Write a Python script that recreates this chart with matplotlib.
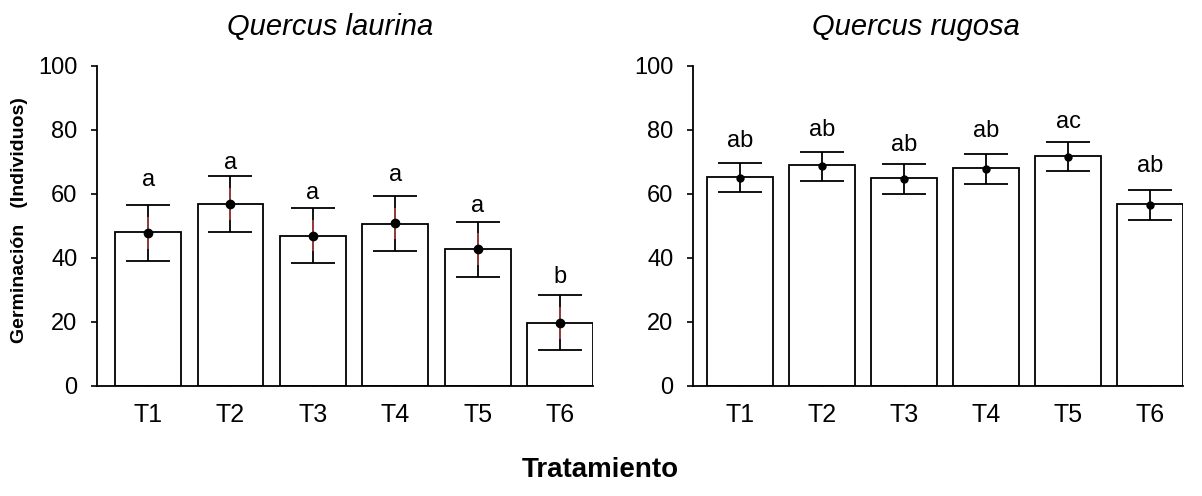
import numpy as np
import matplotlib.pyplot as plt
from matplotlib import font_manager

# Germinación por tratamiento en dos especies de Quercus

tratamientos = ["T1", "T2", "T3", "T4", "T5", "T6"]

# Quercus laurina
laurina_barra = [48.1, 56.9, 47.0, 50.7, 42.7, 19.6]
laurina_media = [47.8, 56.8, 47.0, 50.8, 42.8, 19.7]
laurina_err = [8.8, 8.7, 8.7, 8.6, 8.6, 8.6]
laurina_letras = ["a", "a", "a", "a", "a", "b"]
laurina_letra_y = [64.5, 69.7, 60.4, 65.8, 56.2, 34.0]

# Quercus rugosa
rugosa_barra = [65.3, 69.1, 65.0, 68.2, 71.8, 56.8]
rugosa_media = [65.1, 68.6, 64.8, 67.7, 71.7, 56.7]
rugosa_err = [4.5, 4.65, 4.65, 4.65, 4.6, 4.7]
rugosa_letras = ["ab", "ab", "ab", "ab", "ac", "ab"]
rugosa_letra_y = [76.7, 80.1, 75.3, 79.8, 82.6, 68.9]

nombres = [f.name for f in font_manager.fontManager.ttflist]
narrow = "Liberation Sans Narrow" if "Liberation Sans Narrow" in nombres else "Liberation Sans"
plt.rcParams["font.family"] = ["Liberation Sans", "DejaVu Sans"]

fig = plt.figure(figsize=(12.02, 4.96), dpi=100)
ax1 = fig.add_axes([97 / 1202, 1 - 386 / 496, 496 / 1202, 320 / 496])
ax2 = fig.add_axes([693 / 1202, 1 - 386 / 496, 490 / 1202, 320 / 496])


def panel(ax, barra, media, err, letras, letra_y, rojo, xlim):
    x = np.arange(len(tratamientos))
    ax.bar(x, barra, width=0.8, color="white", edgecolor="black", linewidth=1.3, zorder=2)
    ax.errorbar(x, media, yerr=err, fmt="none", ecolor="black", elinewidth=1.3,
                capsize=16, capthick=1.3, zorder=3)
    if rojo:
        media_a = np.array(media)
        err_a = np.array(err)
        ax.vlines(x, media_a - 0.57 * err_a, media_a + 0.57 * err_a,
                  color="#a04040", linewidth=1.3, zorder=4)
    ax.plot(x, media, "o", color="black", markersize=6 if rojo else 5, zorder=5)
    for xi, t, yt in zip(x, letras, letra_y):
        ax.text(xi, yt, t, ha="center", va="center", fontsize=17)
    ax.set_ylim(0, 100)
    ax.set_xlim(*xlim)
    ax.set_xticks(x)
    ax.set_xticklabels(tratamientos, fontsize=18, family=[narrow, "DejaVu Sans"])
    ax.set_yticks([0, 20, 40, 60, 80, 100])
    ax.tick_params(axis="y", direction="out", length=4, width=1.2, labelsize=17, pad=10)
    ax.tick_params(axis="x", direction="in", length=4, width=1.0, pad=12)
    for s in ["top", "right"]:
        ax.spines[s].set_visible(False)
    for s in ["left", "bottom"]:
        ax.spines[s].set_linewidth(1.3)


panel(ax1, laurina_barra, laurina_media, laurina_err, laurina_letras, laurina_letra_y,
      True, (-0.62, 5.4))
panel(ax2, rugosa_barra, rugosa_media, rugosa_err, rugosa_letras, rugosa_letra_y,
      False, (-0.57, 5.4))

fig.text(330 / 1202, 1 - 27 / 496, "Quercus laurina", ha="center", va="center",
         fontsize=21, style="italic")
fig.text(916 / 1202, 1 - 27 / 496, "Quercus rugosa", ha="center", va="center",
         fontsize=21, style="italic")
fig.text(20 / 1202, 1 - 220 / 496, "Germinación   (Individuos)", rotation=90,
         ha="center", va="center", fontsize=14, fontweight="bold")
fig.text(600 / 1202, 1 - 470 / 496, "Tratamiento", ha="center", va="center",
         fontsize=20, fontweight="bold", family=[narrow, "DejaVu Sans"])

fig.savefig("out.png", dpi=100)
